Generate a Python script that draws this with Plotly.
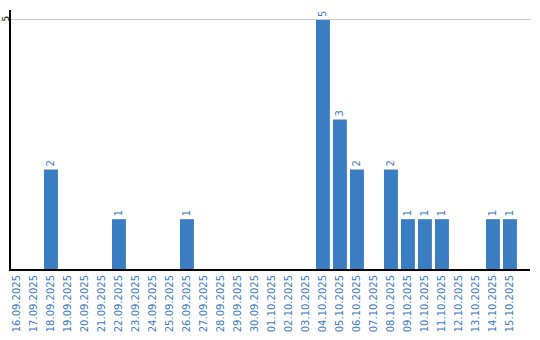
import plotly.graph_objects as go

dates = ["16.09.2025","17.09.2025","18.09.2025","19.09.2025","20.09.2025","21.09.2025",
         "22.09.2025","23.09.2025","24.09.2025","25.09.2025","26.09.2025","27.09.2025",
         "28.09.2025","29.09.2025","30.09.2025","01.10.2025","02.10.2025","03.10.2025",
         "04.10.2025","05.10.2025","06.10.2025","07.10.2025","08.10.2025","09.10.2025",
         "10.10.2025","11.10.2025","12.10.2025","13.10.2025","14.10.2025","15.10.2025"]
counts = [0,0,2,0,0,0,1,0,0,0,1,0,0,0,0,0,0,0,5,3,2,0,2,1,1,1,0,0,1,1]

blue = "#3a7dc2"
fig = go.Figure(go.Bar(
    x=list(range(len(dates))), y=counts,
    text=[str(v) if v else "" for v in counts],
    textposition="outside", textangle=-90,
    textfont=dict(color=blue, size=10, family="DejaVu Sans"),
    marker=dict(color=blue, line=dict(width=0)),
    width=0.82, cliponaxis=False,
))
fig.update_layout(
    width=540, height=340,
    margin=dict(l=11, r=10, t=10, b=71, autoexpand=False),
    plot_bgcolor="white", paper_bgcolor="white",
    showlegend=False,
    font=dict(family="DejaVu Sans", size=10),
    xaxis=dict(
        range=[-0.35, 30.18], tickmode="array",
        tickvals=list(range(len(dates))), ticktext=dates,
        tickangle=-90, tickfont=dict(color=blue, size=10),
        showline=True, linecolor="black", linewidth=2,
        showgrid=False, ticks="", zeroline=False, automargin=False,
    ),
    yaxis=dict(
        range=[0, 5.2], tickvals=[5], ticktext=["5"],
        tickangle=-90, tickfont=dict(color="black", size=9),
        ticklabelstandoff=-4,
        showline=True, linecolor="black", linewidth=2,
        showgrid=True, gridcolor="#c8c8c8", gridwidth=1,
        zeroline=False, ticks="", automargin=False,
    ),
)
fig.write_html("out.html")
